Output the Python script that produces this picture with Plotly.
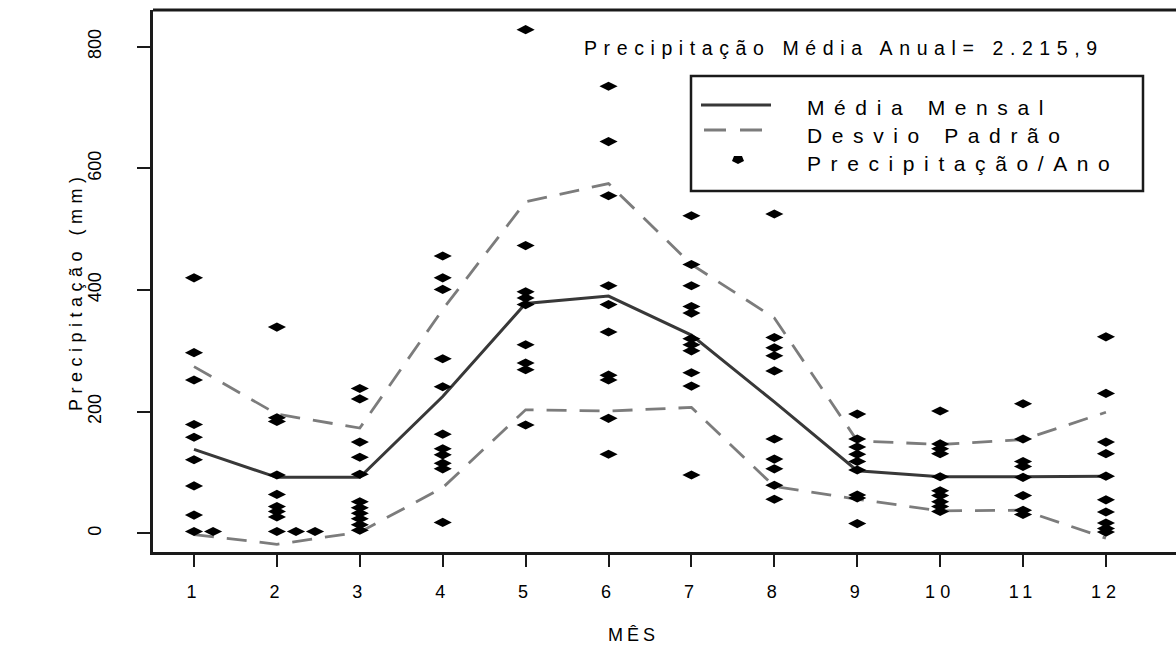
import plotly.graph_objects as go

# ---- data -------------------------------------------------------------
meses = list(range(1, 13))
rotulos_meses = [str(m) for m in meses]

# monthly precipitation of each year (mm), grouped by month
precip_ano = {
    1: [420, 297, 252, 179, 158, 121, 78, 30, 3, 3],
    2: [339, 190, 184, 96, 64, 44, 36, 27, 3, 3, 3],
    3: [238, 221, 150, 125, 97, 52, 42, 33, 24, 14, 5],
    4: [456, 420, 401, 287, 241, 163, 139, 129, 115, 106, 18],
    5: [828, 473, 397, 387, 376, 310, 280, 269, 178],
    6: [735, 644, 555, 407, 376, 331, 260, 252, 189, 130],
    7: [522, 442, 407, 373, 362, 320, 310, 300, 264, 242, 96],
    8: [525, 322, 305, 292, 267, 155, 122, 106, 79, 56],
    9: [196, 155, 142, 130, 118, 104, 63, 58, 16],
    10: [201, 147, 139, 131, 93, 70, 62, 52, 44, 36],
    11: [213, 155, 118, 110, 92, 62, 38, 31],
    12: [323, 230, 150, 131, 94, 55, 35, 17, 8, 2],
}

media_mensal = [138, 92, 92, 225, 378, 390, 326, 216, 103, 93, 93, 94]
desvio_sup = [274, 196, 173, 368, 545, 575, 442, 354, 152, 146, 154, 199]
desvio_inf = [-2, -18, 2, 75, 203, 201, 207, 77, 56, 37, 38, -8]

y_ticks = [0, 200, 400, 600, 800]
texto_anual = "Precipitação Média Anual= 2.215,9"

# ---- geometry of the plotting region (pixels) -------------------------
W, H = 1176, 648
PL, PR, PT, PB = 153, 1176, 10, 552
FONT = "Liberation Sans, Arial, sans-serif"


def px(x):
    return (x - PL) / (PR - PL)


def py(y):
    return 1 - (y - PT) / (PB - PT)


def spaced(txt, sp):
    return f"<span style='letter-spacing:{sp}px'>{txt}</span>"


# repeated values in a month are stacked side by side
STACK_STEP = 0.23
pts_x, pts_y = [], []
for m in meses:
    seen = {}
    for v in precip_ano[m]:
        k = seen.get(v, 0)
        seen[v] = k + 1
        pts_x.append(m + k * STACK_STEP)
        pts_y.append(v)

fig = go.Figure()

dash_style = "20px,13px"
fig.add_trace(go.Scatter(x=meses, y=desvio_sup, mode="lines",
                         line=dict(color="#7c7c7c", width=2.8, dash=dash_style),
                         showlegend=False))
fig.add_trace(go.Scatter(x=meses, y=desvio_inf, mode="lines",
                         line=dict(color="#7c7c7c", width=2.8, dash=dash_style),
                         showlegend=False))
fig.add_trace(go.Scatter(x=meses, y=media_mensal, mode="lines",
                         line=dict(color="#383838", width=3),
                         showlegend=False))
fig.add_trace(go.Scatter(x=pts_x, y=pts_y, mode="markers",
                         marker=dict(symbol="diamond-wide", size=13, color="#000000",
                                     line=dict(width=0)),
                         showlegend=False))

# ---- legend box -------------------------------------------------------
shapes = [
    # top border of the frame
    dict(type="line", xref="paper", yref="paper", x0=0, x1=1, y0=1, y1=1,
         line=dict(color="#1a1a1a", width=3)),
    dict(type="rect", xref="paper", yref="paper",
         x0=px(691), x1=px(1143), y0=py(191), y1=py(76),
         line=dict(color="#1a1a1a", width=2.5), fillcolor="rgba(0,0,0,0)"),
    dict(type="line", xref="paper", yref="paper",
         x0=px(701), x1=px(771), y0=py(105), y1=py(105),
         line=dict(color="#383838", width=3)),
    dict(type="line", xref="paper", yref="paper",
         x0=px(704), x1=px(762), y0=py(130), y1=py(130),
         line=dict(color="#7c7c7c", width=2.8, dash="22px,14px")),
    dict(type="path", xref="paper", yref="paper",
         xsizemode="pixel", ysizemode="pixel",
         xanchor=px(738), yanchor=py(160),
         path="M -6 -1 L -4 4 L 4 4 L 6 -1 L 0 -4 Z",
         fillcolor="#000000", line=dict(width=0)),
]

legend_items = [("Média Mensal", 107), ("Desvio Padrão", 135), ("Precipitação/Ano", 163)]
annotations = []
for txt, yy in legend_items:
    annotations.append(dict(text=spaced(txt, 9.6), xref="paper", yref="paper",
                            x=px(805), y=py(yy), xanchor="left", yanchor="middle",
                            showarrow=False, font=dict(family=FONT, size=21, color="#000")))

annotations.append(dict(text=spaced(texto_anual, 6.6), xref="paper", yref="paper",
                        x=px(582), y=py(48), xanchor="left", yanchor="middle",
                        showarrow=False, font=dict(family=FONT, size=19.5, color="#000")))

# axis titles
annotations.append(dict(text=spaced("Precipitação (mm)", 5.5), xref="paper", yref="paper",
                        x=px(76), y=py(291), xanchor="center", yanchor="middle",
                        textangle=-90, showarrow=False,
                        font=dict(family=FONT, size=18, color="#000")))
annotations.append(dict(text=spaced("MÊS", 4), xref="paper", yref="paper",
                        x=px(633), y=py(635), xanchor="center", yanchor="middle",
                        showarrow=False, font=dict(family=FONT, size=18, color="#000")))

fig.update_layout(
    width=W, height=H,
    margin=dict(l=PL, r=W - PR, t=PT, b=H - PB, pad=0),
    paper_bgcolor="white", plot_bgcolor="white",
    shapes=shapes, annotations=annotations,
    font=dict(family=FONT, color="#000"),
)

fig.update_xaxes(
    range=[0.5054, 12.845], tickmode="array", tickvals=meses,
    ticktext=[spaced(t, 5) for t in rotulos_meses],
    showgrid=False, zeroline=False,
    showline=True, linecolor="#1a1a1a", linewidth=2.5,
    ticks="outside", ticklen=12, tickwidth=2, tickcolor="#1a1a1a",
    ticklabelstandoff=10, tickfont=dict(family=FONT, size=18, color="#000"),
)
fig.update_yaxes(
    range=[-30.7, 860.3], tickmode="array", tickvals=y_ticks,
    ticktext=[str(v) for v in y_ticks], tickangle=-90,
    showgrid=False, zeroline=False,
    showline=True, linecolor="#1a1a1a", linewidth=2.5,
    ticks="outside", ticklen=13, tickwidth=2, tickcolor="#1a1a1a",
    ticklabelstandoff=29, tickfont=dict(family=FONT, size=18, color="#000"),
)

fig.write_html("out.html")
